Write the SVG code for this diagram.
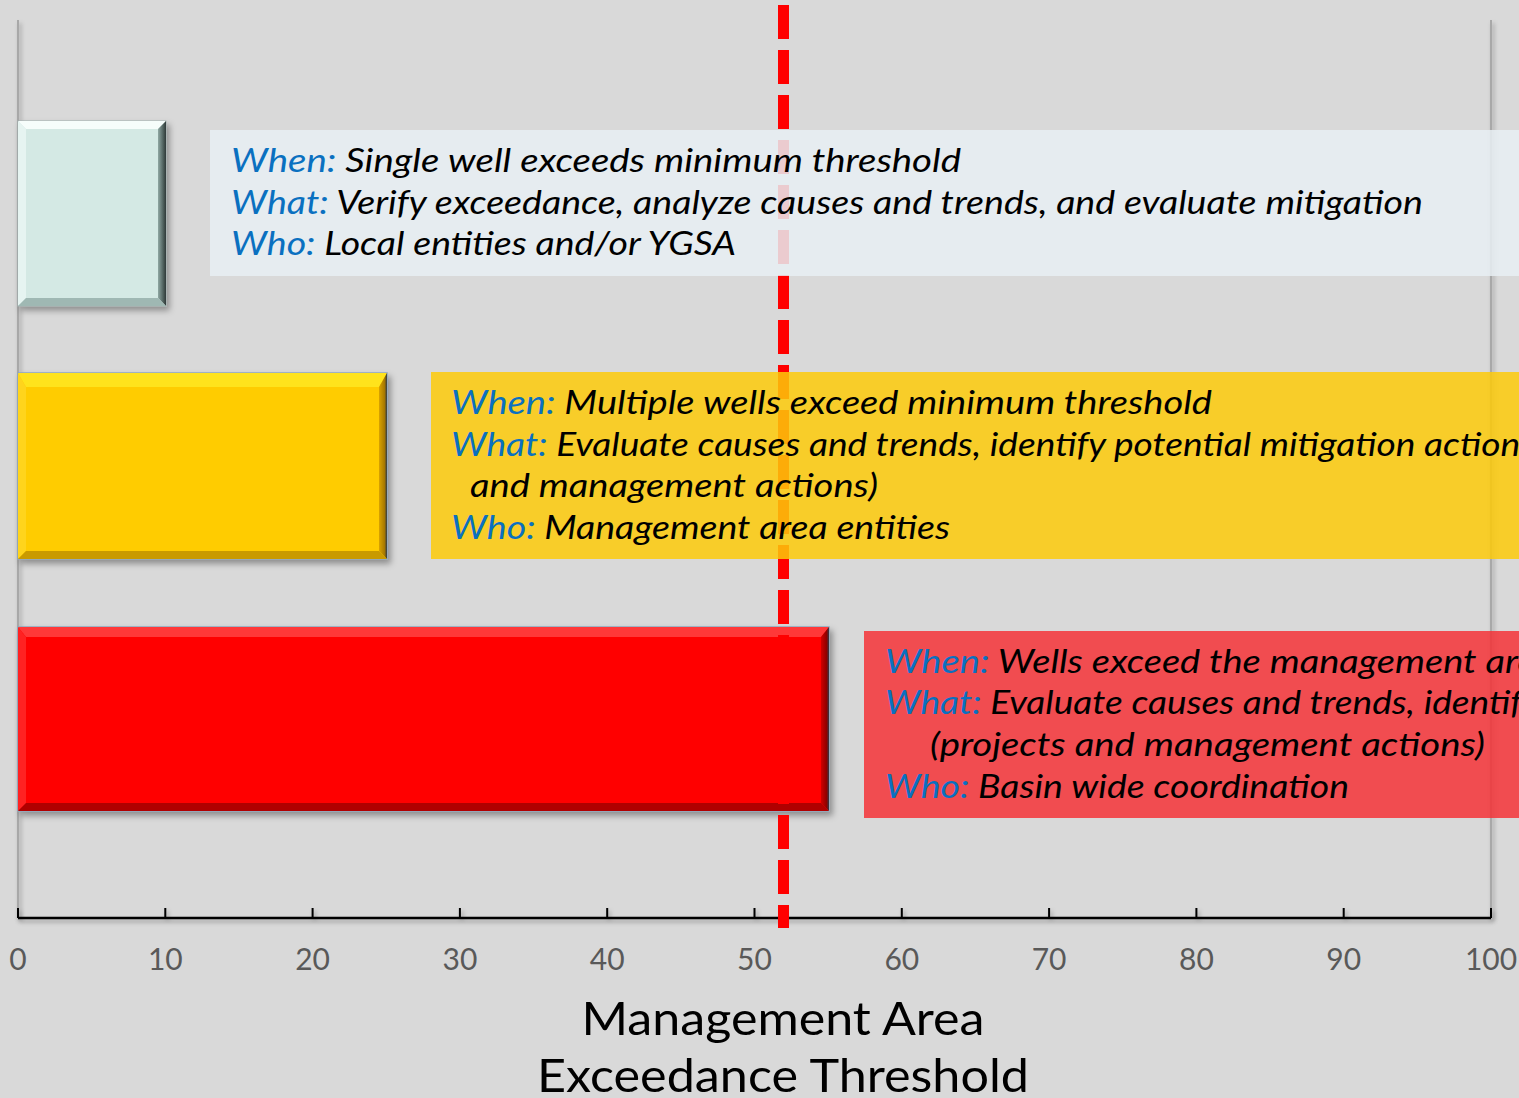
<svg xmlns="http://www.w3.org/2000/svg" width="1519" height="1098" viewBox="0 0 1519 1098">
<defs>
<style>
.t{font-family:Lato,"Open Sans","Liberation Sans",sans-serif;font-style:italic;font-size:32px;fill:#000}
.l{fill:#0a70c0}
.n{font-family:Lato,"Open Sans","Liberation Sans",sans-serif;font-size:30px;fill:#595959;text-anchor:middle}
.ti{font-family:Lato,"Open Sans","Liberation Sans",sans-serif;font-size:47px;fill:#000;text-anchor:middle}
.edge{stroke:#a8a8a8;stroke-width:2;fill:none}
</style>
<filter id="sh" x="-10%" y="-10%" width="130%" height="130%">
<feDropShadow dx="3" dy="4" stdDeviation="3" flood-color="#000" flood-opacity="0.35"/>
</filter>
<filter id="lsh" x="-5%" y="-50%" width="110%" height="300%">
<feDropShadow dx="2" dy="3" stdDeviation="2" flood-color="#000" flood-opacity="0.3"/>
</filter>
<linearGradient id="r1" x1="0" y1="0" x2="1" y2="0"><stop offset="0" stop-color="#8fa8a3"/><stop offset="1" stop-color="#2e3a38"/></linearGradient>
<linearGradient id="r2" x1="0" y1="0" x2="1" y2="0"><stop offset="0" stop-color="#d9a300"/><stop offset="0.7" stop-color="#a67800"/><stop offset="1" stop-color="#2f3a45"/></linearGradient>
<linearGradient id="r3" x1="0" y1="0" x2="1" y2="0"><stop offset="0" stop-color="#d00000"/><stop offset="0.7" stop-color="#900000"/><stop offset="1" stop-color="#2f3a45"/></linearGradient>
</defs>
<rect width="1519" height="1098" fill="#d9d9d9"/>

<g id="plot-frame" filter="url(#lsh)">
<line class="edge" x1="18" y1="20" x2="18" y2="918"/>
<line class="edge" x1="1491" y1="20" x2="1491" y2="918" stroke="#bdbdbd"/>
</g>

<g id="axis" filter="url(#lsh)">
<line x1="18" y1="918" x2="1491" y2="918" stroke="#000" stroke-width="2.5"/>
<path d="M18 908V918M165.3 908V918M312.6 908V918M459.9 908V918M607.2 908V918M754.5 908V918M901.8 908V918M1049.1 908V918M1196.4 908V918M1343.7 908V918M1491 908V918" stroke="#000" stroke-width="2"/>
</g>
<g id="axis-labels">
<text class="n" x="18" y="970">0</text>
<text class="n" x="165.3" y="970">10</text>
<text class="n" x="312.6" y="970">20</text>
<text class="n" x="459.9" y="970">30</text>
<text class="n" x="607.2" y="970">40</text>
<text class="n" x="754.5" y="970">50</text>
<text class="n" x="901.8" y="970">60</text>
<text class="n" x="1049.1" y="970">70</text>
<text class="n" x="1196.4" y="970">80</text>
<text class="n" x="1343.7" y="970">90</text>
<text class="n" x="1491" y="970">100</text>
</g>
<g id="axis-title">
<text class="ti" x="783" y="1035" textLength="403" lengthAdjust="spacingAndGlyphs">Management Area</text>
<text class="ti" x="783" y="1092" textLength="492" lengthAdjust="spacingAndGlyphs">Exceedance Threshold</text>
</g>

<g id="bar-1" filter="url(#sh)">
<rect x="18" y="121" width="148" height="185" fill="#d4e9e4" stroke="#9fb0ae" stroke-width="1"/>
<polygon points="18,121 166,121 158,129 26,129" fill="#f6fdfb"/>
<polygon points="18,121 26,129 26,298 18,306" fill="#e6f4f1"/>
<polygon points="166,121 166,306 158,298 158,129" fill="url(#r1)"/>
<polygon points="18,306 166,306 158,298 26,298" fill="#9fb8b3"/>
</g>

<g id="bar-2" filter="url(#sh)">
<rect x="18" y="373" width="369" height="186" fill="#ffcc00" stroke="#8fa6bd" stroke-width="1.5"/>
<polygon points="18,373 387,373 379,387 26,387" fill="#ffe31f"/>
<polygon points="18,373 26,387 26,551 18,559" fill="#ffd41a"/>
<polygon points="387,373 387,559 379,551 379,387" fill="url(#r2)"/>
<polygon points="18,559 387,559 379,551 26,551" fill="#c99a00"/>
</g>

<g id="bar-3" filter="url(#sh)">
<rect x="18" y="627" width="811" height="184" fill="#ff0606" stroke="#8fa6bd" stroke-width="1.5"/>
<polygon points="18,627 829,627 821,637 26,637" fill="#ff3838"/>
<polygon points="18,627 26,637 26,803 18,811" fill="#ff2020"/>
<polygon points="829,627 829,811 821,803 821,637" fill="url(#r3)"/>
<polygon points="18,811 829,811 821,803 26,803" fill="#b00000"/>
</g>

<g id="connectors">
<line x1="783.5" y1="5" x2="783.5" y2="928" stroke="#ff0000" stroke-width="11" stroke-dasharray="34 11"/>
</g>

<g id="box-1">
<rect x="210" y="130" width="1320" height="146" fill="#e8eef3" fill-opacity="0.85"/>
<text class="t" x="231" y="172" textLength="730" lengthAdjust="spacingAndGlyphs"><tspan class="l">When:</tspan> Single well exceeds minimum threshold</text>
<text class="t" x="231" y="214" textLength="1192" lengthAdjust="spacingAndGlyphs"><tspan class="l">What:</tspan> Verify exceedance, analyze causes and trends, and evaluate mitigation</text>
<text class="t" x="231" y="255" textLength="505" lengthAdjust="spacingAndGlyphs"><tspan class="l">Who:</tspan> Local entities and/or YGSA</text>
</g>

<g id="box-2">
<rect x="431" y="372" width="1100" height="187" fill="#fdca09" fill-opacity="0.85"/>
<text class="t" x="451" y="414" textLength="761" lengthAdjust="spacingAndGlyphs"><tspan class="l">When:</tspan> Multiple wells exceed minimum threshold</text>
<text class="t" x="451" y="456" textLength="1084" lengthAdjust="spacingAndGlyphs"><tspan class="l">What:</tspan> Evaluate causes and trends, identify potential mitigation actions</text>
<text class="t" x="470" y="497" textLength="408" lengthAdjust="spacingAndGlyphs">and management actions)</text>
<text class="t" x="451" y="539" textLength="499" lengthAdjust="spacingAndGlyphs"><tspan class="l">Who:</tspan> Management area entities</text>
</g>

<g id="box-3">
<rect x="864" y="631" width="670" height="187" fill="#f43337" fill-opacity="0.85"/>
<text class="t" x="885" y="673" textLength="670" lengthAdjust="spacingAndGlyphs"><tspan class="l">When:</tspan> Wells exceed the management area</text>
<text class="t" x="885" y="714" textLength="655" lengthAdjust="spacingAndGlyphs"><tspan class="l">What:</tspan> Evaluate causes and trends, identify</text>
<text class="t" x="930" y="756" textLength="555" lengthAdjust="spacingAndGlyphs">(projects and management actions)</text>
<text class="t" x="885" y="798" textLength="464" lengthAdjust="spacingAndGlyphs"><tspan class="l">Who:</tspan> Basin wide coordination</text>
</g>
</svg>
